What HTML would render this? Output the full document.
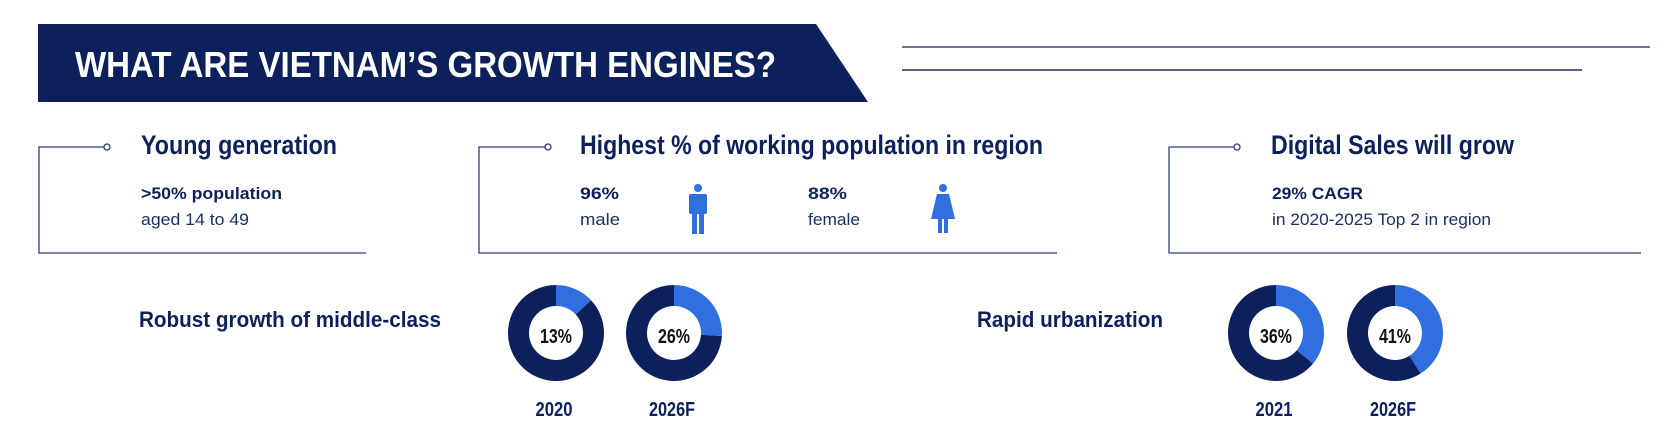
<!DOCTYPE html>
<html><head><meta charset="utf-8"><style>
html,body{margin:0;padding:0;background:#fff;width:1667px;height:428px;overflow:hidden}
svg{display:block}
text{font-family:"Liberation Sans",Arial,sans-serif}
</style></head><body>
<svg id="svg" width="1667" height="428" viewBox="0 0 1667 428">
<g>
<polygon points="38,24 816,24 868,102 38,102" fill="#0c215c"/>
<text x="75" y="77" font-size="36" font-weight="bold" fill="#fff" textLength="701" lengthAdjust="spacingAndGlyphs">WHAT ARE VIETNAM’S GROWTH ENGINES?</text>
<line x1="902" y1="47" x2="1650" y2="47" stroke="#34497f" stroke-width="1.5"/>
<line x1="902" y1="70" x2="1582" y2="70" stroke="#1c2f66" stroke-width="1.5"/>
</g>

<g fill="none" stroke="#2c3f78" stroke-width="1.3">
<polyline points="104,147 39,147 39,253 366,253"/>
<circle cx="107" cy="147" r="3" fill="#fff"/>
</g>
<text x="141" y="154" font-size="27" font-weight="bold" fill="#0c215c" textLength="196" lengthAdjust="spacingAndGlyphs">Young generation</text>
<text x="141" y="199" font-size="17" font-weight="bold" fill="#0c215c" textLength="141" lengthAdjust="spacingAndGlyphs">&gt;50% population</text>
<text x="141" y="225" font-size="17" fill="#1c2f66" textLength="108" lengthAdjust="spacingAndGlyphs">aged 14 to 49</text>

<g fill="none" stroke="#2c3f78" stroke-width="1.3">
<polyline points="545,147 479,147 479,253 1057,253"/>
<circle cx="548" cy="147" r="3" fill="#fff"/>
</g>
<text x="580" y="154" font-size="27" font-weight="bold" fill="#0c215c" textLength="463" lengthAdjust="spacingAndGlyphs">Highest % of working population in region</text>
<text x="580" y="199" font-size="17" font-weight="bold" fill="#0c215c" textLength="39" lengthAdjust="spacingAndGlyphs">96%</text>
<text x="580" y="225" font-size="17" fill="#1c2f66" textLength="40" lengthAdjust="spacingAndGlyphs">male</text>
<g fill="#2f6fdf">
<circle cx="698" cy="188" r="4"/>
<rect x="689" y="194" width="18" height="20" rx="2"/>
<rect x="692" y="210" width="5" height="24"/>
<rect x="699" y="210" width="5" height="24"/>
</g>
<text x="808" y="199" font-size="17" font-weight="bold" fill="#0c215c" textLength="39" lengthAdjust="spacingAndGlyphs">88%</text>
<text x="808" y="225" font-size="17" fill="#1c2f66" textLength="52" lengthAdjust="spacingAndGlyphs">female</text>
<g fill="#2f6fdf">
<circle cx="943" cy="188" r="4"/>
<polygon points="937,194 949,194 955,219 931,219"/>
<rect x="938" y="217" width="4" height="16"/>
<rect x="944" y="217" width="4" height="16"/>
</g>

<g fill="none" stroke="#2c3f78" stroke-width="1.3">
<polyline points="1234,147 1169,147 1169,253 1641,253"/>
<circle cx="1237" cy="147" r="3" fill="#fff"/>
</g>
<text x="1271" y="154" font-size="27" font-weight="bold" fill="#0c215c" textLength="243" lengthAdjust="spacingAndGlyphs">Digital Sales will grow</text>
<text x="1272" y="199" font-size="17" font-weight="bold" fill="#0c215c" textLength="91" lengthAdjust="spacingAndGlyphs">29% CAGR</text>
<text x="1272" y="225" font-size="17" fill="#1c2f66" textLength="219" lengthAdjust="spacingAndGlyphs">in 2020-2025 Top 2 in region</text>

<text x="139" y="327" font-size="22" font-weight="bold" fill="#0c215c" textLength="302" lengthAdjust="spacingAndGlyphs">Robust growth of middle-class</text>
<text x="977" y="327" font-size="22" font-weight="bold" fill="#0c215c" textLength="186" lengthAdjust="spacingAndGlyphs">Rapid urbanization</text>
<g id="donuts"></g>
</svg>
<script>
const donutNames = ["middle-class-2020","middle-class-2026f","urban-2021","urban-2026f"];
const donutValues = [13, 26, 36, 41];
const donutYears = ["2020","2026F","2021","2026F"];
const centersX = [556, 674, 1276, 1395];
const CY = 333, RO = 48, RI = 27;
const NS = "http://www.w3.org/2000/svg";
const g = document.getElementById('donuts');
function pt(r, frac){const a = frac*2*Math.PI - Math.PI/2; return [Math.cos(a)*r, Math.sin(a)*r];}
function arc(cx, f0, f1){
  const [x0,y0]=pt(RO,f0),[x1,y1]=pt(RO,f1),[x2,y2]=pt(RI,f1),[x3,y3]=pt(RI,f0);
  const large = (f1-f0)>0.5?1:0;
  return `M${cx+x0},${CY+y0} A${RO},${RO} 0 ${large} 1 ${cx+x1},${CY+y1} L${cx+x2},${CY+y2} A${RI},${RI} 0 ${large} 0 ${cx+x3},${CY+y3} Z`;
}
donutValues.forEach((v,i)=>{
  const cx = centersX[i], f = v/100;
  const dark = document.createElementNS(NS,'path');
  dark.setAttribute('d', arc(cx, f, 0.99999));
  dark.setAttribute('fill', '#0c215c');
  
  
  g.appendChild(dark);
  const seg = document.createElementNS(NS,'path');
  seg.setAttribute('d', arc(cx, 0, f));
  seg.setAttribute('fill', '#2f6fdf');
  
  
  g.appendChild(seg);
  const t = document.createElementNS(NS,'text');
  t.setAttribute('x', cx); t.setAttribute('y', CY+10);
  t.setAttribute('text-anchor','middle'); t.setAttribute('font-size','20');
  t.setAttribute('font-weight','bold'); t.setAttribute('fill','#111');
  t.setAttribute('textLength','32'); t.setAttribute('lengthAdjust','spacingAndGlyphs');
  t.textContent = v + '%';
  
  
  g.appendChild(t);
  const y = document.createElementNS(NS,'text');
  y.setAttribute('x', cx-2); y.setAttribute('y', 416);
  y.setAttribute('text-anchor','middle'); y.setAttribute('font-size','20');
  y.setAttribute('font-weight','bold'); y.setAttribute('fill','#0c215c');
  y.setAttribute('textLength', donutYears[i].length===5 ? '46' : '37');
  y.setAttribute('lengthAdjust','spacingAndGlyphs');
  y.textContent = donutYears[i];
  
  
  g.appendChild(y);
});
</script>
</body></html>
